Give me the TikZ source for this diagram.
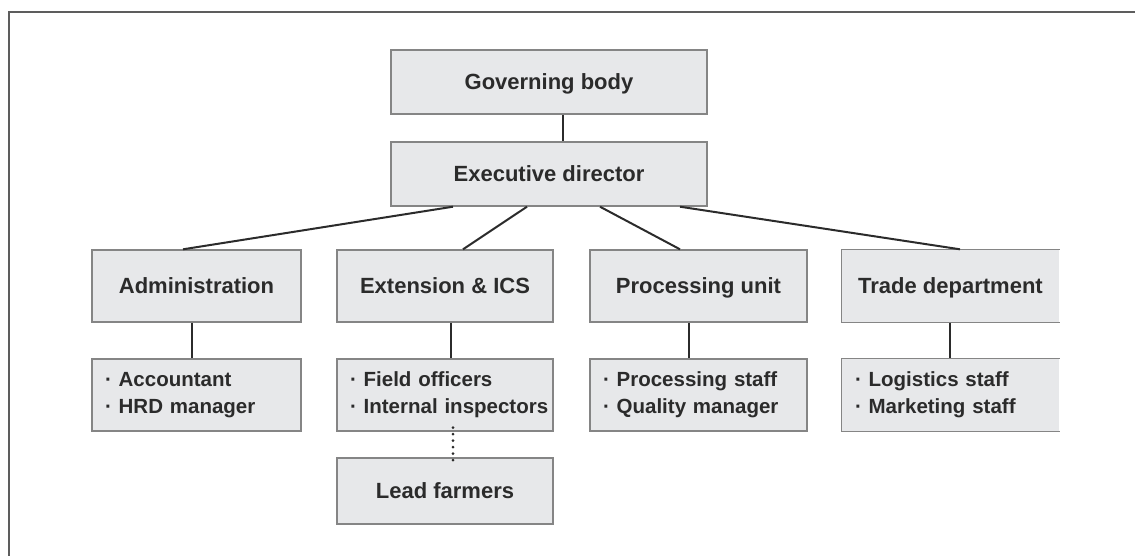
\documentclass[tikz,border=0pt]{standalone}
\usepackage{fontspec}
\setmainfont{Liberation Sans}
\usepackage{xcolor}
\usetikzlibrary{positioning}

\definecolor{boxgray}{HTML}{E7E8EA}
\definecolor{edgegray}{HTML}{858585}
\definecolor{inkgray}{HTML}{2B2B2B}

\tikzset{
  unit/.style={draw=edgegray, line width=1.4pt, fill=boxgray, text=inkgray,
    font=\bfseries\fontsize{22}{26}\selectfont, inner sep=0pt,
    text height=16pt, text depth=2pt},
  staff/.style={unit, align=left, inner xsep=13pt, text height=, text depth=,
    font=\bfseries\fontsize{20.5}{27}\selectfont},
  link/.style={draw=inkgray, line width=2pt}
}

\begin{document}
\begin{tikzpicture}[x=1pt, y=-1pt]
            \useasboundingbox (0, 0) rectangle (1135, 555);
            \draw[edgegray!70!black, line width=2pt] (8.5, 560) -- (8.5, 12) -- (1140, 12);

            \node[unit, minimum width=316pt, minimum height=64pt] (gov) at (549, 82) {Governing body};
            \node[unit, minimum width=316pt, minimum height=64pt] (exec) at (549, 174) {Executive director};

            \node[unit, minimum width=209pt, minimum height=72pt] (admin) at (196.5, 286) {Administration};
            \node[unit, minimum width=216pt, minimum height=72pt] (ext) at (445, 286) {Extension \& ICS};
            \node[unit, minimum width=217pt, minimum height=72pt] (proc) at (698.5, 286) {Processing unit};
            \node[unit, draw=none, minimum width=217pt, minimum height=72pt] (trade) at (950.5, 286) {Trade department};

            \node[staff, minimum width=209pt, minimum height=72pt, text width=183pt] (adminstaff) at (196.5, 395) {\mbox{· Accountant}\\\mbox{· HRD manager}};
            \node[staff, minimum width=216pt, minimum height=72pt, text width=190pt] (extstaff) at (445, 395) {\mbox{· Field officers}\\\mbox{· Internal inspectors}};
            \node[staff, minimum width=217pt, minimum height=72pt, text width=191pt] (procstaff) at (698.5, 395) {\mbox{· Processing staff}\\\mbox{· Quality manager}};
            \node[staff, draw=none, minimum width=217pt, minimum height=72pt, text width=191pt] (tradestaff) at (950.5, 395) {\mbox{· Logistics staff}\\\mbox{· Marketing staff}};

            \node[unit, minimum width=216pt, minimum height=66pt] (lead) at (445, 491) {Lead farmers};

            % trade boxes are cut off on the right
            \draw[edgegray, line width=1.4pt] (trade.north east) -- (trade.north west) -- (trade.south west) -- (trade.south east);
            \draw[edgegray, line width=1.4pt] (tradestaff.north east) -- (tradestaff.north west) -- (tradestaff.south west) -- (tradestaff.south east);

            \draw[link] ([xshift=14pt]gov.south) -- ([xshift=14pt]exec.north);

            \draw[link] ([xshift=-96pt]exec.south) -- ([xshift=-13.5pt]admin.north);
            \draw[link] ([xshift=-22pt]exec.south) -- ([xshift=18pt]ext.north);
            \draw[link] ([xshift=51pt]exec.south) -- ([xshift=-18.5pt]proc.north);
            \draw[link] ([xshift=131pt]exec.south) -- ([xshift=9.5pt]trade.north);

            \draw[link] ([xshift=-4.5pt]admin.south) -- ([xshift=-4.5pt]adminstaff.north);
            \draw[link] ([xshift=6pt]ext.south) -- ([xshift=6pt]extstaff.north);
            \draw[link] ([xshift=-9.5pt]proc.south) -- ([xshift=-9.5pt]procstaff.north);
            \draw[link] ([xshift=-0.5pt]trade.south) -- ([xshift=-0.5pt]tradestaff.north);

            \draw[link, line width=3pt, line cap=round, dash pattern=on 0pt off 6.5pt] ([xshift=8pt, yshift=4pt]extstaff.south) -- ([xshift=8pt, yshift=-3pt]lead.north);
\end{tikzpicture}
\end{document}
